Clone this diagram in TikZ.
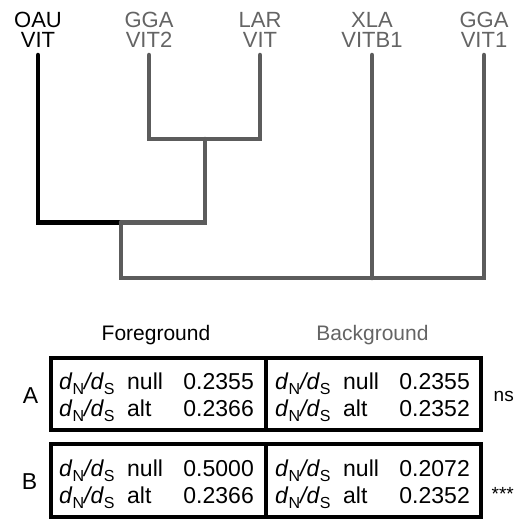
\documentclass[tikz,border=0pt]{standalone}
\usepackage{fontspec}
\setmainfont{Liberation Sans}
\usetikzlibrary{positioning}
\definecolor{branchgray}{RGB}{92,92,92}
\definecolor{labelgray}{RGB}{100,100,100}
\newcommand{\subsc}[1]{\raisebox{-5pt}{\fontsize{16}{16}\selectfont #1}}
\newcommand{\dnds}{\textit{d}\subsc{N}\textit{/d}\subsc{S}}

\begin{document}
\begin{tikzpicture}[x=1pt, y=-1pt,
  leaf/.style = {align=center, inner sep=0pt, text=labelgray,
    font=\fontsize{22}{20}\selectfont},
  branch/.style = {line width=4.5pt, draw=branchgray, line cap=round},
  heading/.style = {inner sep=0pt, anchor=base, font=\fontsize{21}{21}\selectfont},
  panel/.style = {draw, line width=3.5pt, minimum width=430pt, inner sep=0pt},
  cell/.style = {inner sep=0pt, font=\fontsize{23}{23}\selectfont},
  test/.style = {inner sep=0pt, anchor=base east, font=\fontsize{19}{19}\selectfont}]
  \clip (0,0) rectangle (516,519);
  % tips of the branches
  \coordinate (t1) at (38,55);
  \coordinate (t2) at (149,55);
  \coordinate (t3) at (260,55);
  \coordinate (t4) at (372,55);
  \coordinate (t5) at (484,55);
  \node[leaf, text=black, above=7pt of t1] (oau) {OAU\\VIT};
  \node[leaf, above=7pt of t2] (gga2) {GGA\\VIT2};
  \node[leaf, above=7pt of t3] (lar) {LAR\\VIT};
  \node[leaf, above=7pt of t4] (xla) {XLA\\VITB1};
  \node[leaf, above=7pt of t5] (gga1) {GGA\\VIT1};
  % inner nodes
  \coordinate (c1) at (205,139);
  \coordinate (c2) at (121,222.5);
  \coordinate (c3) at (372,278);
  \draw[branch, draw=black] (t1) |- (c2);
  \draw[branch] (t2) |- (c1) -| (t3);
  \draw[branch] (c1) |- (c2);
  \draw[branch] (c2) |- (c3) -| (t5);
  \draw[branch] (t4) -- (c3);

  % table
  \node[heading] (fg) at (156,340) {Foreground};
  \node[heading, text=labelgray] (bg) at (372.5,340) {Background};
  \node[panel, minimum height=72pt] (boxA) at (266,394) {};
  \node[panel, minimum height=73pt] (boxB) at (266,480.5) {};
  \draw[line width=3.5pt] (boxA.north) -- (boxA.south);
  \draw[line width=3.5pt] (boxB.north) -- (boxB.south);
  \node[cell, anchor=base] (lblA) at (30.5,403) {A};
  \node[cell, anchor=base] (lblB) at (29.5,489) {B};
  \foreach \row/\yb/\fn/\fa/\bn/\ba in {A/389/0.2355/0.2366/0.2355/0.2352,
                                        B/476/0.5000/0.2366/0.2072/0.2352}{
    \node[cell, anchor=base west] (fd1\row) at (59,\yb) {\dnds};
    \node[cell, anchor=base west] (ft1\row) at (127,\yb) {null};
    \node[cell, anchor=base east] (fv1\row) at (254,\yb) {\fn};
    \node[cell, anchor=base west] (fd2\row) at (59,\yb+27) {\dnds};
    \node[cell, anchor=base west] (ft2\row) at (127,\yb+27) {alt};
    \node[cell, anchor=base east] (fv2\row) at (254,\yb+27) {\fa};
    \node[cell, anchor=base west] (bd1\row) at (275,\yb) {\dnds};
    \node[cell, anchor=base west] (bt1\row) at (343,\yb) {null};
    \node[cell, anchor=base east] (bv1\row) at (470,\yb) {\bn};
    \node[cell, anchor=base west] (bd2\row) at (275,\yb+27) {\dnds};
    \node[cell, anchor=base west] (bt2\row) at (343,\yb+27) {alt};
    \node[cell, anchor=base east] (bv2\row) at (470,\yb+27) {\ba};
  }
  \node[test] (sigA) at (514,401) {ns};
  \node[test] (sigB) at (514,500) {***};
\end{tikzpicture}
\end{document}
